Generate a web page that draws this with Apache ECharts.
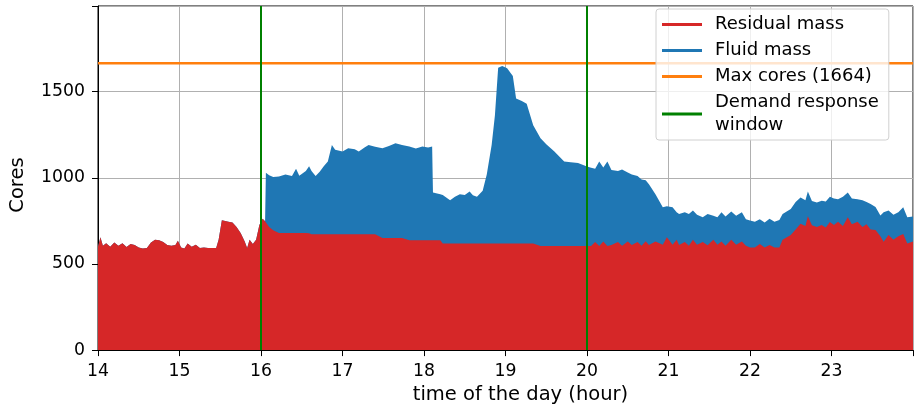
<!DOCTYPE html>
<html>
<head>
<meta charset="utf-8">
<script src="https://cdn.jsdelivr.net/npm/echarts@6/dist/echarts.min.js"></script>
<style>
  html, body { margin: 0; padding: 0; background: #fff; }
  #chart { width: 916px; height: 410px; }
</style>
</head>
<body>
<div id="chart"></div>
<script>
// time of day (hours)
const hours = [
  14.0, 14.03, 14.06, 14.1, 14.15, 14.2, 14.25, 14.3, 14.35, 14.4, 14.45, 14.5, 14.55, 14.6, 14.65, 14.7,
  14.75, 14.8, 14.85, 14.9, 14.95, 14.98, 15.02, 15.06, 15.1, 15.15, 15.2, 15.25, 15.3, 15.35, 15.4, 15.45,
  15.48, 15.52, 15.6, 15.65, 15.7, 15.75, 15.8, 15.83, 15.86, 15.9, 15.94, 15.98, 16.02, 16.05,
  16.06, 16.1, 16.15, 16.22, 16.3, 16.38, 16.43, 16.47, 16.55, 16.59, 16.62, 16.67, 16.72, 16.77, 16.82, 16.87,
  16.91, 17.0, 17.07, 17.15, 17.2, 17.27, 17.32, 17.4, 17.49, 17.57, 17.65, 17.73, 17.82, 17.9, 17.98, 18.05,
  18.1, 18.11, 18.2, 18.23, 18.32, 18.38, 18.44, 18.5, 18.56, 18.6, 18.65, 18.72, 18.77, 18.83, 18.87, 18.91,
  18.96, 19.02, 19.09, 19.13, 19.2, 19.26, 19.34, 19.43, 19.5, 19.6, 19.72, 19.8, 19.89, 20.0, 20.05, 20.1,
  20.15, 20.2, 20.25, 20.3, 20.38, 20.43, 20.5, 20.55, 20.62, 20.67, 20.72, 20.76, 20.84, 20.93, 20.98, 21.05,
  21.1, 21.13, 21.2, 21.25, 21.3, 21.35, 21.42, 21.48, 21.55, 21.6, 21.65, 21.7, 21.77, 21.83, 21.9, 21.95,
  22.0, 22.06, 22.12, 22.18, 22.24, 22.3, 22.36, 22.4, 22.5, 22.56, 22.62, 22.68, 22.71, 22.76, 22.82, 22.88,
  22.93, 22.98, 23.03, 23.08, 23.14, 23.2, 23.25, 23.32, 23.38, 23.43, 23.48, 23.54, 23.6, 23.64, 23.7, 23.76,
  23.82, 23.88, 23.93, 24.0
];

// residual mass (cores)
const residual = [
  600, 655, 605, 620, 600, 625, 605, 620, 598, 615, 610, 595, 590, 592, 625, 640,
  638, 628, 610, 605, 610, 634, 595, 590, 618, 600, 612, 592, 595, 592, 592, 592,
  640, 754, 745, 740, 715, 680, 630, 592, 640, 615, 640, 726, 762, 748,
  745, 714, 695, 680, 680, 680, 680, 680, 680, 678, 672, 672, 672, 672, 672, 672,
  672, 672, 672, 672, 672, 672, 672, 672, 651, 651, 651, 651, 638, 638, 638, 638,
  638, 638, 638, 619, 619, 619, 619, 619, 619, 619, 619, 619, 619, 619, 619, 619,
  619, 619, 619, 619, 619, 619, 619, 604, 604, 604, 604, 604, 604, 604, 604, 628,
  604, 630, 604, 610, 628, 605, 630, 610, 628, 605, 632, 610, 630, 612, 655, 612,
  640, 610, 628, 605, 640, 612, 628, 608, 640, 612, 630, 605, 640, 612, 630, 605,
  596, 596, 615, 596, 610, 596, 596, 640, 668, 700, 733, 720, 777, 725, 714, 726,
  712, 743, 726, 745, 720, 771, 730, 745, 714, 730, 700, 697, 660, 629, 668, 640,
  660, 674, 619, 630
];

// fluid mass (cores), sits on top of residual
const fluid = [
  0, 0, 0, 0, 0, 0, 0, 0, 0, 0, 0, 0, 0, 0, 0, 0,
  0, 0, 0, 0, 0, 0, 0, 0, 0, 0, 0, 0, 0, 0, 0, 0,
  0, 0, 0, 0, 0, 0, 0, 0, 0, 0, 0, 0, 0, 0,
  284, 301, 309, 328, 339, 330, 373, 332, 360, 389, 368, 338, 363, 395, 423, 518,
  490, 480, 499, 493, 480, 503, 518, 508, 520, 534, 549, 539, 543, 532, 543, 537,
  543, 276, 267, 281, 251, 271, 286, 281, 301, 279, 271, 305, 400, 571, 743, 1019,
  1029, 1016, 971, 841, 826, 811, 686, 625, 591, 548, 491, 486, 482, 461, 454, 425,
  491, 430, 491, 435, 412, 443, 400, 409, 382, 385, 353, 352, 275, 217, 180, 217,
  160, 180, 172, 185, 170, 173, 143, 182, 140, 159, 170, 170, 165, 168, 170, 155,
  156, 149, 145, 144, 152, 149, 159, 150, 151, 160, 153, 150, 143, 140, 143, 141,
  150, 147, 154, 130, 170, 143, 150, 131, 156, 130, 148, 133, 121, 171, 142, 145,
  140, 155, 152, 145
];

const maxCores = 1664;
const drWindow = [16, 20];
const xTicks = [14, 15, 16, 17, 18, 19, 20, 21, 22, 23];
const yTicks = [0, 500, 1000, 1500];

const font = 'DejaVu Sans';
const chart = echarts.init(document.getElementById('chart'), null, { renderer: 'canvas' });

// stack fluid on residual (library stacking does not work on two value axes)
const fluidTop = hours.map((h, i) => [h, residual[i] + fluid[i]]);

const option = {
  animation: false,
  grid: {
    left: 96, right: -1, top: 6, bottom: 55,
    show: true, borderColor: '#000', borderWidth: 1
  },
  legend: {
    orient: 'vertical',
    left: 656, top: 9,
    padding: [4, 10, 3, 6],
    itemGap: 3,
    itemWidth: 40, itemHeight: 3,
    icon: 'rect',
    backgroundColor: 'rgba(255,255,255,0.8)',
    borderColor: '#d0d0d0', borderWidth: 1, borderRadius: 3,
    textStyle: { fontFamily: font, fontSize: 18, color: '#000', lineHeight: 23, padding: [0, 0, 0, 8] },
    data: ['Residual mass', 'Fluid mass', 'Max cores (' + maxCores + ')', 'Demand response\nwindow']
  },
  xAxis: {
    type: 'value', min: 14, max: 24, interval: 1,
    name: 'time of the day (hour)', nameLocation: 'middle', nameGap: 34,
    nameTextStyle: { fontFamily: font, fontSize: 19.5, color: '#000', padding: [0, 0, 0, 30] },
    axisLine: { show: true, lineStyle: { color: '#000', width: 1 } },
    axisTick: { show: true, length: 6, lineStyle: { color: '#000' } },
    axisLabel: {
      fontFamily: font, fontSize: 17.3, color: '#000', margin: 13,
      formatter: v => (xTicks.indexOf(v) >= 0 ? String(v) : '')
    },
    splitLine: { show: true, lineStyle: { color: '#b0b0b0', width: 1 } }
  },
  yAxis: {
    type: 'value', min: 0, max: 1996.8, interval: 500,
    name: 'Cores', nameLocation: 'middle', nameGap: 70,
    nameTextStyle: { fontFamily: font, fontSize: 19.5, color: '#000', padding: [0, 14, 0, 0] },
    axisLine: { show: true, lineStyle: { color: '#000', width: 1 } },
    axisTick: { show: true, length: 6, lineStyle: { color: '#000' } },
    axisLabel: {
      fontFamily: font, fontSize: 17.3, color: '#000', margin: 13,
      formatter: v => (yTicks.indexOf(v) >= 0 ? String(v) : '')
    },
    splitLine: { show: true, lineStyle: { color: '#b0b0b0', width: 1 } }
  },
  series: [
    {
      name: 'Fluid mass', type: 'line',
      data: fluidTop,
      showSymbol: false, symbol: 'none',
      color: '#1f77b4',
      lineStyle: { width: 0 },
      areaStyle: { color: '#1f77b4', opacity: 1 },
      z: 2
    },
    {
      name: 'Residual mass', type: 'line',
      data: hours.map((h, i) => [h, residual[i]]),
      showSymbol: false, symbol: 'none',
      color: '#d62728',
      lineStyle: { width: 0 },
      areaStyle: { color: '#d62728', opacity: 1 },
      z: 2
    },
    {
      name: 'Max cores (' + maxCores + ')', type: 'line',
      data: [[14, maxCores], [24, maxCores]],
      showSymbol: false, symbol: 'none',
      color: '#ff7f0e',
      lineStyle: { width: 2.5, color: '#ff7f0e' },
      z: 3
    },
    {
      name: 'Demand response\nwindow', type: 'line',
      data: [],
      color: 'green',
      markLine: {
        silent: true, symbol: 'none',
        label: { show: false },
        lineStyle: { color: 'green', width: 2, type: 'solid' },
        data: drWindow.map(x => ({ xAxis: x }))
      },
      z: 4
    }
  ]
};

chart.setOption(option);
</script>
</body>
</html>
